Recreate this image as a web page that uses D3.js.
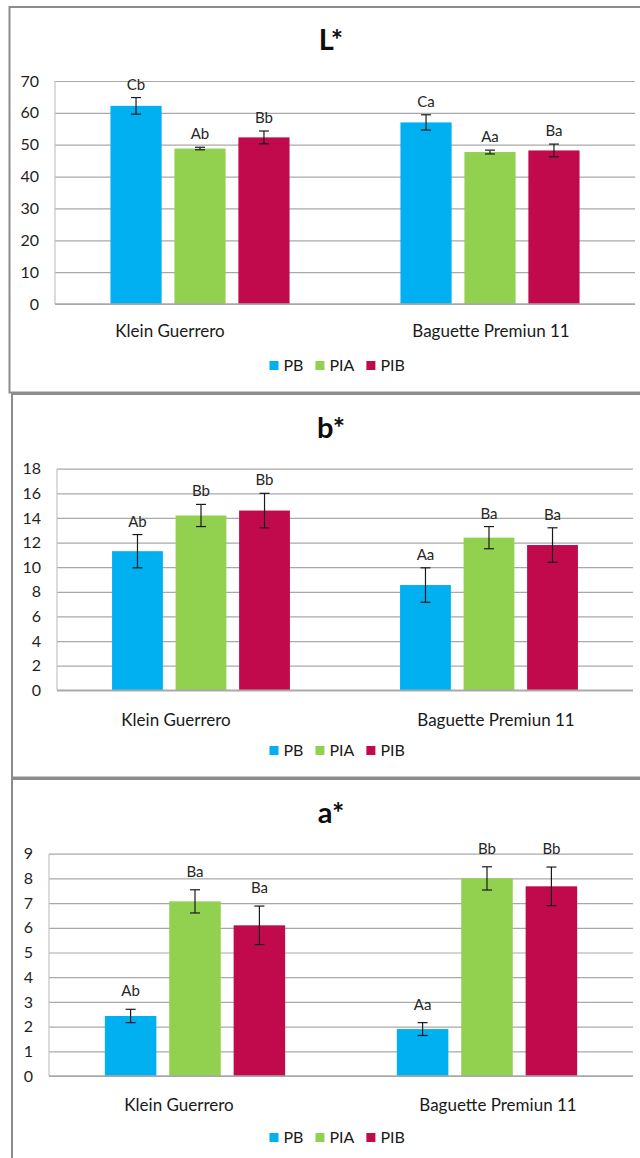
<!DOCTYPE html>
<html>
<head>
<meta charset="utf-8">
<script src="https://cdn.jsdelivr.net/npm/d3@7/dist/d3.min.js"></script>
<style>
  html, body { margin: 0; padding: 0; background: #fff; }
  svg { display: block; font-family: Lato, "Open Sans", sans-serif; }
</style>
</head>
<body>
<svg id="chart" width="640" height="1158"></svg>
<script>
// Bread samples and treatments
const categories = ["Klein Guerrero", "Baguette Premiun 11"];
const series = ["PB", "PIA", "PIB"];
const seriesColors = ["#00B0F0", "#92D050", "#C00A4C"];

// L* (lightness): means, standard deviations, significance letters
const lValues  = [[62.2, 48.8, 52.3], [57.0, 47.7, 48.2]];
const lErrors  = [[2.6, 0.4, 2.0], [2.4, 0.6, 2.0]];
const lLetters = [["Cb", "Ab", "Bb"], ["Ca", "Aa", "Ba"]];
const lTicks   = [0, 10, 20, 30, 40, 50, 60, 70];

// b* (yellowness)
const bValues  = [[11.3, 14.2, 14.6], [8.55, 12.4, 11.8]];
const bErrors  = [[1.35, 0.9, 1.4], [1.4, 0.9, 1.4]];
const bLetters = [["Ab", "Bb", "Bb"], ["Aa", "Ba", "Ba"]];
const bTicks   = [0, 2, 4, 6, 8, 10, 12, 14, 16, 18];

// a* (redness)
const aValues  = [[2.43, 7.07, 6.1], [1.9, 8.0, 7.68]];
const aErrors  = [[0.27, 0.47, 0.78], [0.26, 0.47, 0.78]];
const aLetters = [["Ab", "Ba", "Ba"], ["Aa", "Bb", "Bb"]];
const aTicks   = [0, 1, 2, 3, 4, 5, 6, 7, 8, 9];

// Panel geometry (pixels)
const panels = [
  { title: "L*", values: lValues, errors: lErrors, letters: lLetters, ticks: lTicks,
    frame: { x: 9.5, y: 7, bottom: 392.5 },
    plot: { left: 55, right: 635, top: 81, bottom: 304 },
    titleY: 50, catY: 336.5, catShift: [-30, 1], legendY: 370.5, letterGap: 8 },
  { title: "b*", values: bValues, errors: bErrors, letters: bLetters, ticks: bTicks,
    frame: { x: 12, y: 394, bottom: 777.5 },
    plot: { left: 57, right: 633, top: 468.7, bottom: 690.3 },
    titleY: 437.5, catY: 725.5, catShift: [-25, 7], legendY: 755.5, letterGap: 8 },
  { title: "a*", values: aValues, errors: aErrors, letters: aLetters, ticks: aTicks,
    frame: { x: 12, y: 779, bottom: 1170 },
    plot: { left: 49, right: 633, top: 853.7, bottom: 1076 },
    titleY: 822.5, catY: 1110.5, catShift: [-16, 11], legendY: 1142.5, letterGap: 13 }
];

const svg = d3.select("#chart");
const color = d3.scaleOrdinal(series, seriesColors);

panels.forEach(p => {
  const g = svg.append("g");

  // outer chart frame (right edge runs past the page)
  g.append("rect")
    .attr("x", p.frame.x).attr("y", p.frame.y)
    .attr("width", 700).attr("height", p.frame.bottom - p.frame.y)
    .attr("fill", "#fff").attr("stroke", "#8c8c8c").attr("stroke-width", 2);

  const x0 = d3.scaleBand(categories, [p.plot.left, p.plot.right]);
  const x1 = d3.scaleBand(series, [0, x0.bandwidth()])
    .paddingInner(0.2).paddingOuter(0.867);
  const y = d3.scaleLinear([0, d3.max(p.ticks)], [p.plot.bottom, p.plot.top]);

  // horizontal gridlines
  g.append("g")
    .attr("transform", `translate(${p.plot.left},0)`)
    .call(d3.axisLeft(y).tickValues(p.ticks).tickSize(-(p.plot.right - p.plot.left)).tickFormat(""))
    .call(a => a.select(".domain").remove())
    .call(a => a.selectAll("line").attr("stroke", "#a9a9a9").attr("stroke-width", 1.2));

  // vertical axis line
  g.append("line")
    .attr("x1", p.plot.left).attr("x2", p.plot.left)
    .attr("y1", p.plot.top).attr("y2", p.plot.bottom)
    .attr("stroke", "#c4c4c4").attr("stroke-width", 1.2);

  // y tick labels
  g.append("g")
    .attr("transform", `translate(${p.plot.left - 16},0)`)
    .call(d3.axisLeft(y).tickValues(p.ticks).tickSize(0).tickPadding(0))
    .call(a => a.select(".domain").remove())
    .call(a => a.selectAll("text")
      .attr("fill", "#1f1f1f").style("font-size", "16px").style("font-family", "Lato, sans-serif"));

  // bars, error bars, letters
  const rows = [];
  categories.forEach((c, ci) => series.forEach((s, si) => rows.push({
    cat: c, ci, s, v: p.values[ci][si], e: p.errors[ci][si], lab: p.letters[ci][si]
  })));

  g.selectAll("rect.bar").data(rows).join("rect")
    .attr("class", "bar")
    .attr("x", d => x0(d.cat) + x1(d.s))
    .attr("width", x1.bandwidth())
    .attr("y", d => y(d.v))
    .attr("height", d => y(0) - y(d.v))
    .attr("fill", d => color(d.s));

  // category axis baseline
  g.append("line")
    .attr("x1", p.plot.left).attr("x2", p.plot.right)
    .attr("y1", y(0)).attr("y2", y(0))
    .attr("stroke", "#a9a9a9").attr("stroke-width", 1.4);

  const cx = d => x0(d.cat) + x1(d.s) + x1.bandwidth() / 2;
  const eb = g.selectAll("g.err").data(rows).join("g").attr("class", "err")
    .attr("stroke", "#1a1a1a").attr("stroke-width", 1.2);
  eb.append("line").attr("x1", cx).attr("x2", cx)
    .attr("y1", d => y(d.v + d.e)).attr("y2", d => y(d.v - d.e));
  eb.append("line").attr("x1", d => cx(d) - 5).attr("x2", d => cx(d) + 5)
    .attr("y1", d => y(d.v + d.e)).attr("y2", d => y(d.v + d.e));
  eb.append("line").attr("x1", d => cx(d) - 5).attr("x2", d => cx(d) + 5)
    .attr("y1", d => y(d.v - d.e)).attr("y2", d => y(d.v - d.e));

  g.selectAll("text.letter").data(rows).join("text")
    .attr("class", "letter")
    .attr("x", cx)
    .attr("y", d => y(d.v + d.e) - p.letterGap)
    .attr("text-anchor", "middle")
    .attr("fill", "#262626").style("font-size", "15px")
    .text(d => d.lab);

  // category names
  g.selectAll("text.cat").data(categories).join("text")
    .attr("class", "cat")
    .attr("x", (c, i) => x0(c) + x0.bandwidth() / 2 + p.catShift[i])
    .attr("y", p.catY)
    .attr("text-anchor", "middle")
    .attr("fill", "#1a1a1a").style("font-size", "17px")
    .text(c => c);

  // title
  g.append("text")
    .attr("x", 331).attr("y", p.titleY)
    .attr("text-anchor", "middle")
    .attr("fill", "#0d0d0d").style("font-size", "29px").style("font-weight", "bold")
    .text(p.title);

  // legend
  const lg = g.append("g").attr("transform", `translate(269.5,${p.legendY})`);
  let lx = 0;
  series.forEach(s => {
    const item = lg.append("g").attr("transform", `translate(${lx},0)`);
    item.append("rect").attr("x", 0).attr("y", -9.5).attr("width", 9).attr("height", 9).attr("fill", color(s));
    const t = item.append("text").attr("x", 14).attr("y", 0)
      .attr("fill", "#1a1a1a").style("font-size", "16px").text(s);
    lx += 14 + t.node().getComputedTextLength() + 12;
  });
});
</script>
</body>
</html>
